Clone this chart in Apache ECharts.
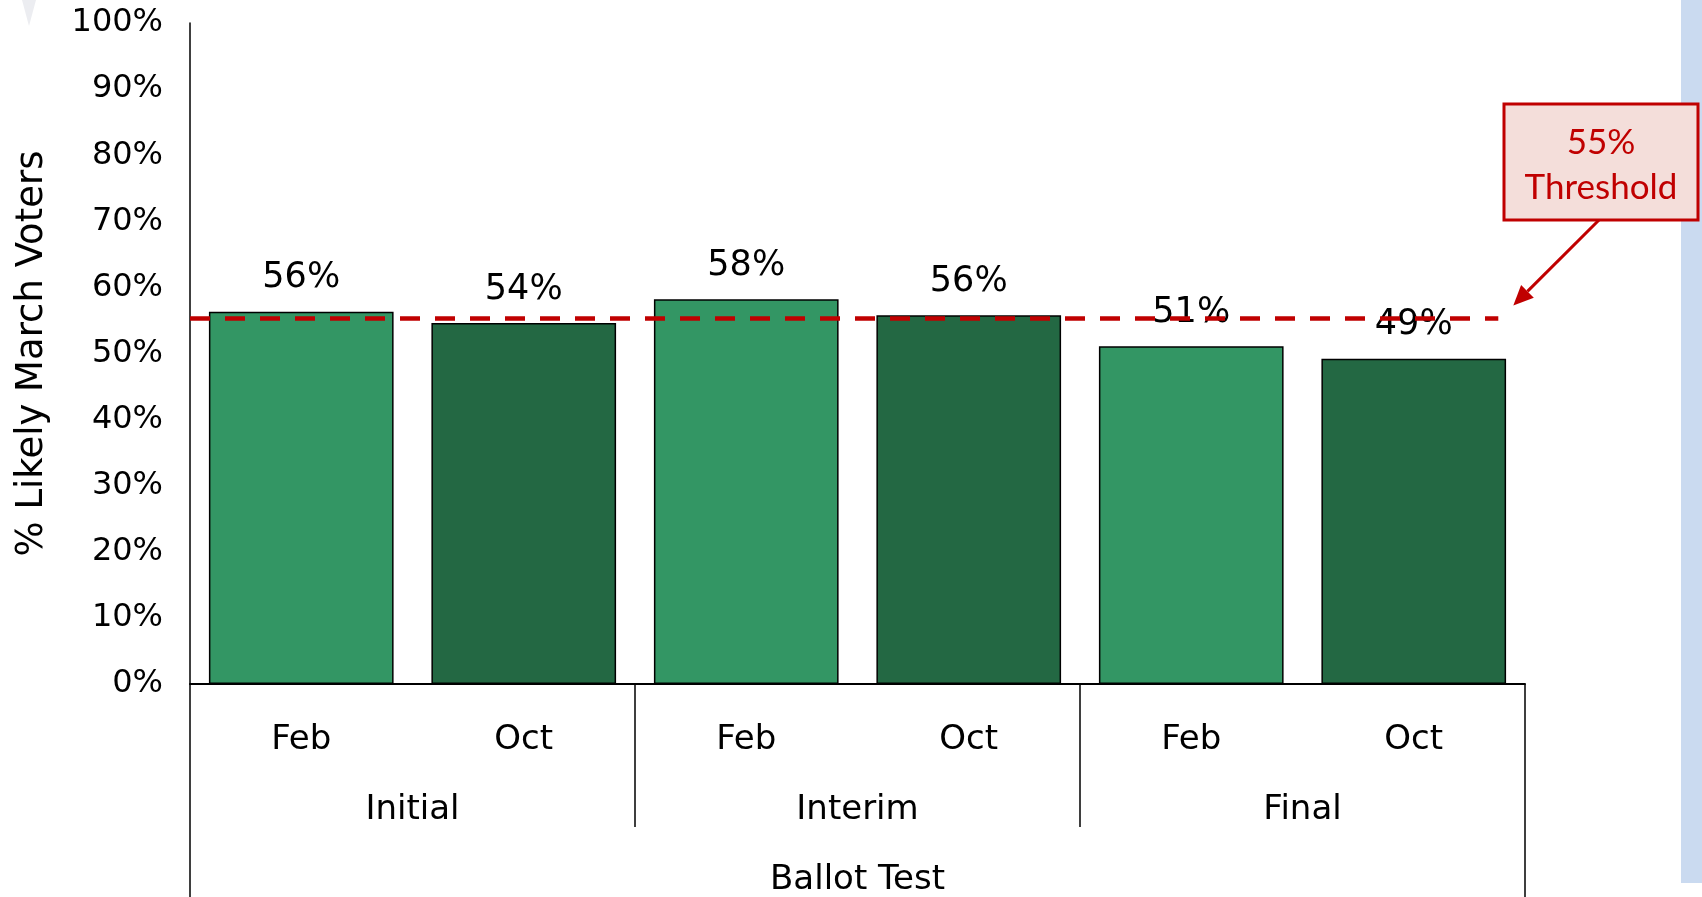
<!DOCTYPE html>
<html>
<head>
<meta charset="utf-8">
<script src="https://cdn.jsdelivr.net/npm/echarts@6/dist/echarts.min.js"></script>
<style>
html,body{margin:0;padding:0;background:#fff;}
#c{width:1702px;height:897px;}
</style>
</head>
<body>
<div id="c"></div>
<script>
// ---- data ----
var months = ['Feb', 'Oct', 'Feb', 'Oct', 'Feb', 'Oct'];
var groups = ['Initial', 'Interim', 'Final'];
var topGroup = ['Ballot Test'];
var values = [56.3, 54.6, 58.2, 55.8, 51.1, 49.2];
var valueLabels = ['56%', '54%', '58%', '56%', '51%', '49%'];
var thresholdValue = 55.3;
var thresholdText = ['55%', 'Threshold'];
var yTicks = [0, 10, 20, 30, 40, 50, 60, 70, 80, 90, 100];
var yTitle = '% Likely March Voters';

var LIGHT = '#339664', DARK = '#236843', RED = '#C00000';
var FONT = 'DejaVu Sans';

var chart = echarts.init(document.getElementById('c'), null, {renderer: 'canvas'});

var barData = values.map(function (v, i) {
  return {
    value: v,
    itemStyle: {color: i % 2 === 0 ? LIGHT : DARK},
    label: {formatter: valueLabels[i]}
  };
});

var grid = {left: 190, right: 177, top: 23, bottom: 213, containLabel: false};

var option = {
  animation: false,
  backgroundColor: '#ffffff',
  grid: grid,
  xAxis: [
    {
      type: 'category', data: months, position: 'bottom',
      axisLine: {show: true, lineStyle: {color: '#000', width: 2}},
      axisTick: {show: false},
      axisLabel: {margin: 39, fontSize: 34, fontFamily: FONT, color: '#000'},
      splitLine: {show: false}
    },
    {
      type: 'category', data: groups, position: 'bottom',
      axisLine: {show: false},
      axisTick: {show: true, length: 143, lineStyle: {color: '#000', width: 1.5}},
      axisLabel: {margin: 109, fontSize: 34, fontFamily: FONT, color: '#000'},
      splitLine: {show: false}
    },
    {
      type: 'category', data: topGroup, position: 'bottom',
      axisLine: {show: false},
      axisTick: {show: true, length: 230, lineStyle: {color: '#000', width: 1.5}},
      axisLabel: {margin: 179, fontSize: 34, fontFamily: FONT, color: '#000'},
      splitLine: {show: false}
    },
    {
      type: 'value', min: 0, max: 6, show: false
    }
  ],
  yAxis: {
    type: 'value', min: yTicks[0], max: yTicks[yTicks.length - 1], interval: 10,
    axisLine: {show: true, lineStyle: {color: '#000', width: 1.5}},
    axisTick: {show: false},
    splitLine: {show: false},
    axisLabel: {margin: 27, fontSize: 32, fontFamily: FONT, color: '#000', formatter: '{value}%'},
    name: yTitle, nameLocation: 'middle', nameGap: 139,
    nameTextStyle: {fontSize: 37, fontFamily: FONT, color: '#000'}
  },
  series: [
    {
      type: 'bar', xAxisIndex: 0, data: barData, barWidth: '83%',
      itemStyle: {borderColor: '#000', borderWidth: 1.5},
      label: {show: true, position: 'top', distance: 16, fontSize: 35, fontFamily: FONT, color: '#000'},
      z: 2
    },
    {
      type: 'line', xAxisIndex: 3, symbol: 'none', silent: true,
      data: [[0, thresholdValue], [5.88, thresholdValue]],
      lineStyle: {color: RED, width: 4.5, type: [20, 15]},
      z: 10
    }
  ]
};
chart.setOption(option);

// annotation placed from the threshold's pixel position
var endPt = chart.convertToPixel({xAxisIndex: 3, yAxisIndex: 0}, [5.88, thresholdValue]);
var tipX = endPt[0] + 15, tipY = endPt[1] - 13;
var boxX = 1504, boxY = 104, boxW = 194, boxH = 116;
var startX = boxX + boxW / 2 - 2, startY = boxY + boxH;
var ang = Math.atan2(tipY - startY, tipX - startX);
var ah = 20, aw = 9;
var bx = tipX - ah * Math.cos(ang), by = tipY - ah * Math.sin(ang);
var px = -Math.sin(ang) * aw, py = Math.cos(ang) * aw;

chart.setOption({
  graphic: [
    {type: 'rect', shape: {x: 1681, y: 0, width: 21, height: 883}, style: {fill: '#CADAF0'}, z: 0, silent: true},
    {type: 'polygon', shape: {points: [[22, 0], [36, 0], [29, 26]]}, style: {fill: '#ECEDF1'}, z: 0, silent: true},
    {type: 'line', shape: {x1: startX, y1: startY, x2: bx, y2: by}, style: {stroke: RED, lineWidth: 3}, z: 20},
    {type: 'polygon', shape: {points: [[tipX, tipY], [bx + px, by + py], [bx - px, by - py]]}, style: {fill: RED}, z: 20},
    {type: 'rect', shape: {x: boxX, y: boxY, width: boxW, height: boxH}, style: {fill: '#F4DEDA', stroke: RED, lineWidth: 3}, z: 20},
    {type: 'text', x: boxX + boxW / 2, y: boxY + 39, style: {text: thresholdText[0], fill: RED, font: '35px Lato', textAlign: 'center', textVerticalAlign: 'middle'}, z: 21},
    {type: 'text', x: boxX + boxW / 2, y: boxY + 84, style: {text: thresholdText[1], fill: RED, font: '35px Lato', textAlign: 'center', textVerticalAlign: 'middle'}, z: 21}
  ]
});
</script>
</body>
</html>
